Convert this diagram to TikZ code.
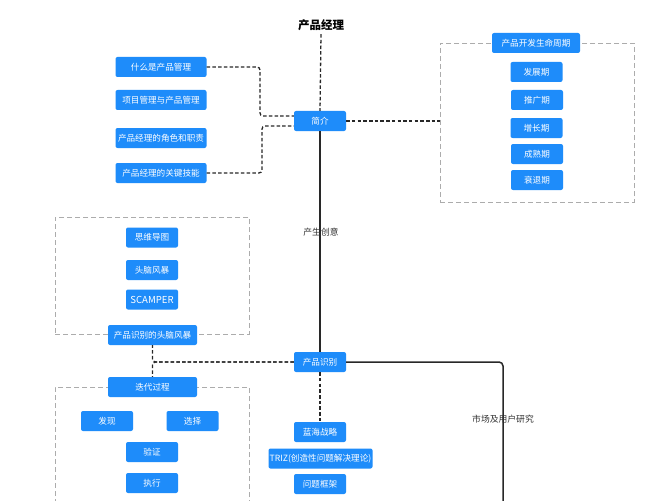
\documentclass[tikz,border=0pt]{standalone}
\usepackage{fontspec}
\setmainfont{Noto Sans CJK SC}
\definecolor{boxblue}{RGB}{30,140,250}
\definecolor{conn}{RGB}{40,40,40}
\definecolor{labgray}{RGB}{50,50,50}
\begin{document}
\begin{tikzpicture}[x=1pt,y=-1pt,
  bbox/.style={fill=boxblue,text=white,rounded corners=2pt,inner sep=0pt,
    minimum height=20pt,minimum width=52pt,font=\fontsize{8.6}{10}\selectfont},
  gbox/.style={draw=gray!65,dash pattern=on 5pt off 3pt,line width=0.8pt,inner sep=0pt},
  dconn/.style={draw=conn,line width=1.3pt,dash pattern=on 3.5pt off 2.2pt,rounded corners=3pt},
  sconn/.style={draw=conn,line width=1.5pt,rounded corners=4pt},
  lab/.style={text=labgray,font=\fontsize{8.8}{10}\selectfont,inner sep=1pt}]
\clip (0,0) rectangle (655,500);
\fill[white] (0,0) rectangle (655,500);

% title
\node[font=\fontsize{11.5}{13}\selectfont\bfseries] (title) at (321,25) {产品经理};

% intro
\node[bbox] (jj) at (320,121) {简介};
\node[bbox,minimum width=91pt] (q1) at (161,67) {什么是产品管理};
\node[bbox,minimum width=91pt] (q2) at (161,100) {项目管理与产品管理};
\node[bbox,minimum width=91pt] (q3) at (161,138) {产品经理的角色和职责};
\node[bbox,minimum width=91pt] (q4) at (161,173) {产品经理的关键技能};

% lifecycle box
\node[gbox,minimum width=194pt,minimum height=159pt] (lcbox) at (537,122.5) {};
\node[bbox,minimum width=88pt] (lct) at (536,43) {产品开发生命周期};
\node[bbox] (l1) at (536.5,72) {发展期};
\node[bbox] (l2) at (537,100) {推广期};
\node[bbox] (l3) at (536.5,128) {增长期};
\node[bbox] (l4) at (537,154) {成熟期};
\node[bbox] (l5) at (537,180) {衰退期};

% brainstorm box
\node[gbox,minimum width=194pt,minimum height=117pt] (bsbox) at (152,275.5) {};
\node[bbox] (b1) at (152,237.5) {思维导图};
\node[bbox] (b2) at (152,270) {头脑风暴};
\node[bbox,font=\fontsize{9.6}{11}\selectfont] (b3) at (152,299.5) {SCAMPER};
\node[bbox,minimum width=89pt] (bs) at (152.5,335) {产品识别的头脑风暴};

% product identification
\node[bbox] (sb) at (320,362) {产品识别};

% iteration box
\node[gbox,minimum width=194pt,minimum height=140pt] (itbox) at (152,457) {};
\node[bbox,minimum width=89pt] (it) at (152.5,387) {迭代过程};
\node[bbox] (i1) at (107,421) {发现};
\node[bbox] (i2) at (192.5,421) {选择};
\node[bbox] (i3) at (152,452) {验证};
\node[bbox] (i4) at (152,483) {执行};

% blue ocean etc
\node[bbox] (h1) at (320,432) {蓝海战略};
\node[bbox,minimum width=104pt] (h2) at (320.5,458.5) {TRIZ(创造性问题解决理论)};
\node[bbox] (h3) at (320,484) {问题框架};

\coordinate (mend) at (503,520);

% connectors
\draw[dconn] (title.south) -- (jj.north);
\draw[dconn] (q1.east) -- (260,67) |- ([yshift=5pt]jj.west);
\draw[dconn] (q4.east) -- (262,173) |- ([yshift=-5pt]jj.west);
\draw[dconn] (jj.east) -- (lcbox.west |- jj.east);
\draw[sconn] (jj.south) -- (sb.north);
\node[lab] (l_cy) at (321,232) {产生创意};
\draw[dconn] (sb.west) -| (bs.south);
\draw[dconn] (sb.west) -| (it.north);
\draw[dconn] (sb.south) -- (h1.north);
\draw[sconn] (sb.east) -| (mend);
\node[lab] (l_sc) at (503,419) {市场及用户研究};
\end{tikzpicture}
\end{document}
